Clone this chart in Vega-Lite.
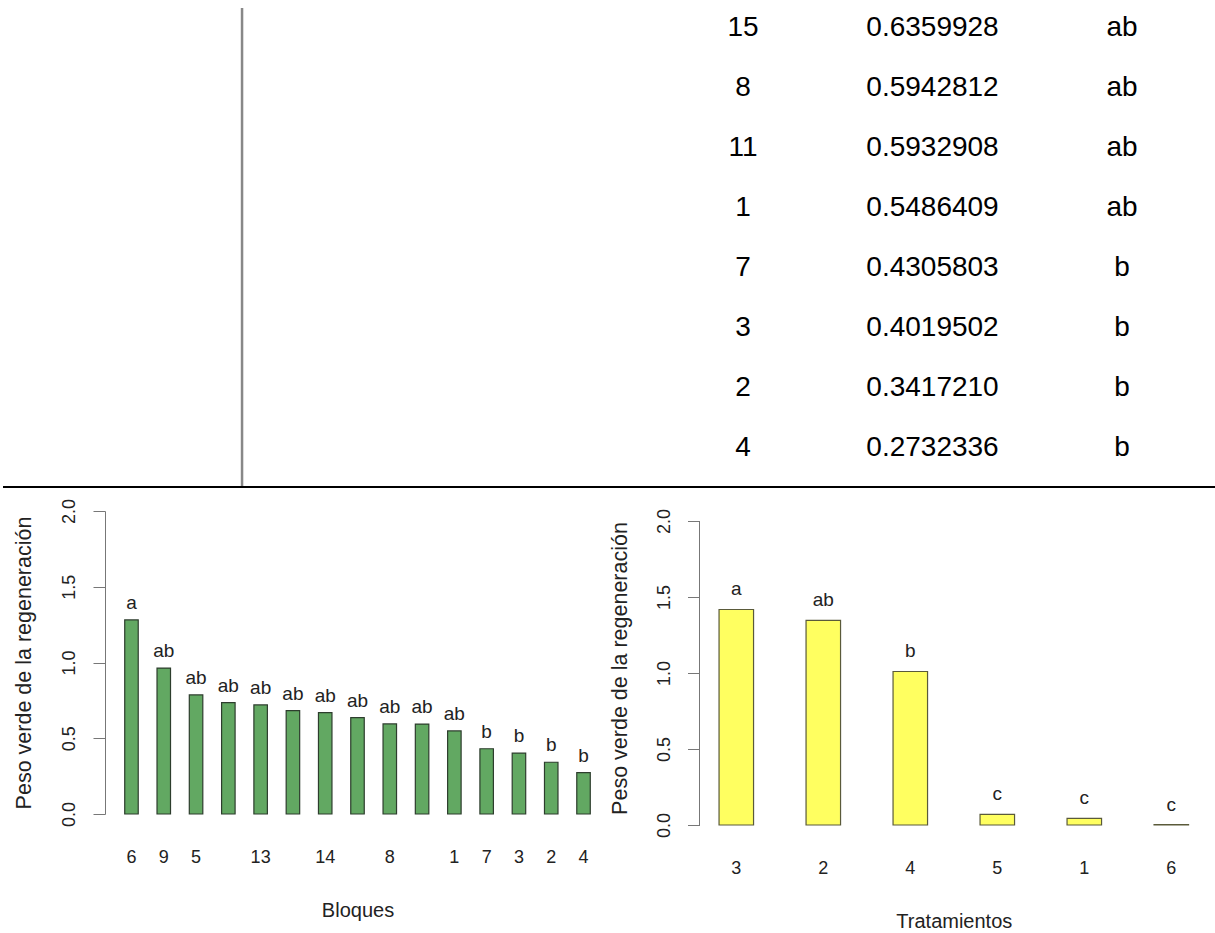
{
  "$schema": "https://vega.github.io/schema/vega-lite/v6.json",
  "background": "white",
  "padding": {"left": 2, "top": 6, "right": 0, "bottom": 0},
  "spacing": 9,
  "config": {
    "font": "Liberation Sans",
    "view": {"stroke": null},
    "axis": {"grid": false, "minExtent": 0}
  },
  "datasets": {
    "bloques": [
      {"orden": 1, "bloque": "6", "media": 1.281, "grupo": "a"},
      {"orden": 2, "bloque": "9", "media": 0.963, "grupo": "ab"},
      {"orden": 3, "bloque": "5", "media": 0.786, "grupo": "ab"},
      {"orden": 4, "bloque": "10", "media": 0.735, "grupo": "ab"},
      {"orden": 5, "bloque": "13", "media": 0.72, "grupo": "ab"},
      {"orden": 6, "bloque": "12", "media": 0.682, "grupo": "ab"},
      {"orden": 7, "bloque": "14", "media": 0.669, "grupo": "ab"},
      {"orden": 8, "bloque": "15", "media": 0.6359928, "grupo": "ab"},
      {"orden": 9, "bloque": "8", "media": 0.5942812, "grupo": "ab"},
      {"orden": 10, "bloque": "11", "media": 0.5932908, "grupo": "ab"},
      {"orden": 11, "bloque": "1", "media": 0.5486409, "grupo": "ab"},
      {"orden": 12, "bloque": "7", "media": 0.4305803, "grupo": "b"},
      {"orden": 13, "bloque": "3", "media": 0.4019502, "grupo": "b"},
      {"orden": 14, "bloque": "2", "media": 0.341721, "grupo": "b"},
      {"orden": 15, "bloque": "4", "media": 0.2732336, "grupo": "b"}
    ],
    "tratamientos": [
      {"tratamiento": "3", "media": 1.418, "grupo": "a"},
      {"tratamiento": "2", "media": 1.346, "grupo": "ab"},
      {"tratamiento": "4", "media": 1.01, "grupo": "b"},
      {"tratamiento": "5", "media": 0.07, "grupo": "c"},
      {"tratamiento": "1", "media": 0.044, "grupo": "c"},
      {"tratamiento": "6", "media": 0.003, "grupo": "c"}
    ]
  },
  "vconcat": [
    {
      "width": 1108,
      "height": 479,
      "layer": [
        {
          "data": {"name": "bloques"},
          "transform": [{"filter": "datum.orden >= 8"}],
          "encoding": {
            "y": {
              "field": "orden",
              "type": "quantitative",
              "scale": {"domain": [7.666, 15.65], "reverse": true, "nice": false, "zero": false},
              "axis": null
            }
          },
          "layer": [
            {
              "mark": {"type": "text", "fontSize": 28, "color": "#000000"},
              "encoding": {
                "x": {"datum": 1, "type": "quantitative", "scale": {"domain": [-2.3668, 3.4802], "nice": false, "zero": false}, "axis": null},
                "text": {"field": "bloque", "type": "nominal"}
              }
            },
            {
              "mark": {"type": "text", "fontSize": 28, "color": "#000000"},
              "encoding": {
                "x": {"datum": 2, "type": "quantitative"},
                "text": {"field": "media", "type": "quantitative", "format": ".7f"}
              }
            },
            {
              "mark": {"type": "text", "fontSize": 28, "color": "#000000"},
              "encoding": {
                "x": {"datum": 3, "type": "quantitative"},
                "text": {"field": "grupo", "type": "nominal"}
              }
            }
          ]
        },
        {
          "data": {"values": [{}]},
          "mark": {"type": "rule", "color": "#888888", "strokeWidth": 2.5},
          "encoding": {
            "x": {"datum": -1.6436, "type": "quantitative"},
            "y": {"datum": 7.666, "type": "quantitative"},
            "y2": {"datum": 15.65}
          }
        },
        {
          "data": {"values": [{}]},
          "mark": {"type": "rule", "color": "#000000", "strokeWidth": 2},
          "encoding": {
            "x": {"datum": -2.905, "type": "quantitative"},
            "x2": {"datum": 3.4994},
            "y": {"datum": 15.65, "type": "quantitative"}
          }
        }
      ]
    },
    {
      "bounds": "flush",
      "spacing": 89.5,
      "hconcat": [
        {
          "width": 505,
          "height": 303,
          "data": {"name": "bloques"},
          "encoding": {
            "x": {
              "field": "bloque",
              "type": "nominal",
              "sort": ["6", "9", "5", "10", "13", "12", "14", "15", "8", "11", "1", "7", "3", "2", "4"],
              "scale": {"paddingInner": 0.582, "paddingOuter": 0.611, "round": false},
              "axis": {
                "title": "Bloques",
                "labelAngle": 0,
                "domain": false,
                "ticks": false,
                "tickSize": 0,
                "labelPadding": 34,
                "labelFontSize": 18,
                "labelColor": "#222222",
                "labelExpr": "indexof(['10','12','15','11'], datum.label) >= 0 ? '' : datum.label",
                "titleFontSize": 20,
                "titleFontWeight": "normal",
                "titleColor": "#222222",
                "titlePadding": 34
              }
            },
            "y": {
              "field": "media",
              "type": "quantitative",
              "scale": {"domain": [0, 2], "nice": false},
              "axis": {
                "title": "Peso verde de la regeneración",
                "values": [0, 0.5, 1, 1.5, 2],
                "format": ".1f",
                "labelAngle": 270,
                "labelAlign": "center",
                "labelBaseline": "middle",
                "labelFlush": false,
                "labelPadding": 24,
                "labelFontSize": 18,
                "labelColor": "#222222",
                "tickSize": 12,
                "tickColor": "#777777",
                "domainColor": "#777777",
                "titleFontSize": 21.5,
                "titleFontWeight": "normal",
                "titleColor": "#222222",
                "titlePadding": 25
              }
            }
          },
          "layer": [
            {"mark": {"type": "bar", "fill": "#62a862", "stroke": "#2d3d2d", "strokeWidth": 1.2}},
            {
              "mark": {"type": "text", "dy": -17, "fontSize": 19, "color": "#222222", "baseline": "middle"},
              "encoding": {"text": {"field": "grupo", "type": "nominal"}}
            }
          ]
        },
        {
          "width": 508.6,
          "height": 314,
          "data": {"name": "tratamientos"},
          "layer": [
            {
              "encoding": {
                "x": {
                  "field": "tratamiento",
                  "type": "nominal",
                  "sort": ["3", "2", "4", "5", "1", "6"],
                  "scale": {"paddingInner": 0.6034, "paddingOuter": 0.2247, "round": false},
                  "axis": {
                    "title": "Tratamientos",
                    "labelAngle": 0,
                    "domain": false,
                    "ticks": false,
                    "tickSize": 0,
                    "labelPadding": 34,
                    "labelFontSize": 18,
                    "labelColor": "#222222",
                    "titleFontSize": 20,
                    "titleFontWeight": "normal",
                    "titleColor": "#222222",
                    "titlePadding": 34
                  }
                },
                "y": {
                  "field": "media",
                  "type": "quantitative",
                  "scale": {"domain": [0, 2.066], "nice": false},
                  "axis": {
                    "title": "Peso verde de la regeneración",
                    "values": [0, 0.5, 1, 1.5, 2],
                    "format": ".1f",
                    "domain": false,
                    "labelAngle": 270,
                    "labelAlign": "center",
                    "labelBaseline": "middle",
                    "labelFlush": false,
                    "labelPadding": 23,
                    "labelFontSize": 18,
                    "labelColor": "#222222",
                    "tickSize": 12,
                    "tickColor": "#777777",
                    "titleFontSize": 21.5,
                    "titleFontWeight": "normal",
                    "titleColor": "#222222",
                    "titlePadding": 24
                  }
                }
              },
              "layer": [
                {"mark": {"type": "bar", "fill": "#ffff60", "stroke": "#5a5a3a", "strokeWidth": 1.2}},
                {
                  "mark": {"type": "text", "dy": -20, "fontSize": 19, "color": "#222222", "baseline": "middle"},
                  "encoding": {"text": {"field": "grupo", "type": "nominal"}}
                }
              ]
            },
            {
              "mark": {"type": "rule", "color": "#777777", "strokeWidth": 1},
              "encoding": {
                "x": {"datum": 0, "type": "quantitative", "scale": {"domain": [0, 1]}, "axis": null},
                "y": {"datum": 0, "type": "quantitative"},
                "y2": {"datum": 2}
              }
            }
          ],
          "resolve": {"scale": {"x": "independent"}}
        }
      ]
    }
  ]
}
